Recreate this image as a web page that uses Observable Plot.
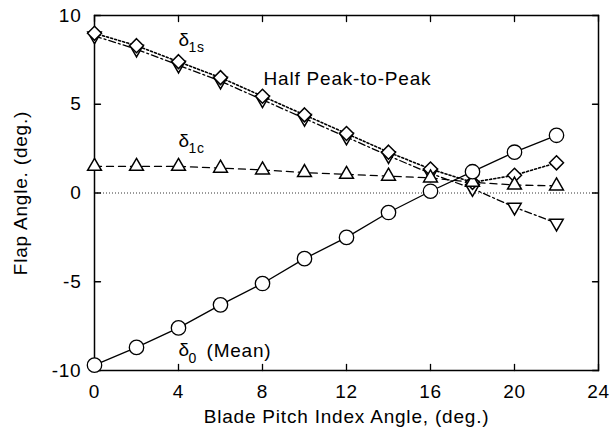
<!DOCTYPE html>
<html>
<head>
<meta charset="utf-8">
<script src="https://cdn.jsdelivr.net/npm/d3@7"></script>
<script src="https://cdn.jsdelivr.net/npm/@observablehq/plot@0.6"></script>
<style>
  html, body { margin: 0; padding: 0; background: #fff; }
</style>
</head>
<body>
<div id="chart"></div>
<script>
// Blade pitch index angle (deg.)
const pitch = [0, 2, 4, 6, 8, 10, 12, 14, 16, 18, 20, 22];
// δ0 (Mean)
const delta0 = [-9.7, -8.7, -7.6, -6.3, -5.1, -3.7, -2.5, -1.1, 0.1, 1.2, 2.3, 3.25];
// δ1c
const delta1c = [1.5, 1.5, 1.5, 1.4, 1.3, 1.15, 1.05, 0.95, 0.85, 0.6, 0.45, 0.4];
// Half Peak-to-Peak
const halfPP = [9.0, 8.3, 7.4, 6.5, 5.45, 4.4, 3.35, 2.3, 1.35, 0.6, 1.0, 1.7];
// δ1s
const delta1s = [8.85, 8.1, 7.2, 6.3, 5.25, 4.2, 3.15, 2.1, 1.1, 0.25, -0.8, -1.7];

const xTicks = [0, 4, 8, 12, 16, 20, 24];
const yTicks = [-10, -5, 0, 5, 10];

const rows = (ys) => pitch.map((x, i) => ({x, y: ys[i]}));
const s0 = rows(delta0), s1c = rows(delta1c), sHalf = rows(halfPP), s1s = rows(delta1s);

// inward tick shapes (drawn by Plot.vector at the frame edges)
const tickShape = (dx, dy) => ({draw(ctx, l) { ctx.moveTo(0, 0); ctx.lineTo(dx * l, dy * l); }});
const tickOpts = {length: 6, anchor: "start", stroke: "#000", strokeWidth: 1.3};

const lineW = 1.3;
const plot = Plot.plot({
  width: 613,
  height: 441,
  marginLeft: 94,
  marginRight: 15,
  marginTop: 15,
  marginBottom: 71,
  style: {fontFamily: "'Liberation Sans', Arial, sans-serif", fontSize: "19px", letterSpacing: "0.8px", color: "#000", background: "#fff"},
  x: {domain: [0, 24]},
  y: {domain: [-10, 10]},
  marks: [
    Plot.ruleY([0], {stroke: "#000", strokeWidth: 0.8, strokeDasharray: "1,2"}),
    Plot.axisX({ticks: xTicks, tickSize: 0, tickPadding: 14, tickFormat: (d) => String(d), label: "Blade Pitch Index Angle, (deg.)", labelAnchor: "center", labelArrow: "none", labelOffset: 52}),
    Plot.axisY({ticks: yTicks, tickSize: 0, tickPadding: 13, tickFormat: (d) => String(d), label: "Flap Angle. (deg.)", labelAnchor: "center", labelArrow: "none", labelOffset: 81}),
    Plot.vector(xTicks, {x: (d) => d, frameAnchor: "bottom", shape: tickShape(0, -1), ...tickOpts}),
    Plot.vector(xTicks, {x: (d) => d, frameAnchor: "top", shape: tickShape(0, 1), ...tickOpts}),
    Plot.vector(yTicks, {y: (d) => d, frameAnchor: "left", shape: tickShape(1, 0), ...tickOpts}),
    Plot.vector(yTicks, {y: (d) => d, frameAnchor: "right", shape: tickShape(-1, 0), ...tickOpts}),
    Plot.frame({stroke: "#000", strokeWidth: 1.5}),
    Plot.line(s1s, {x: "x", y: "y", stroke: "#000", strokeWidth: lineW, strokeDasharray: "7,3,2,3"}),
    Plot.line(sHalf, {x: "x", y: "y", stroke: "#000", strokeWidth: 1.6, strokeDasharray: "2,2.2"}),
    Plot.line(s1c, {x: "x", y: "y", stroke: "#000", strokeWidth: lineW, strokeDasharray: "7,5"}),
    Plot.line(s0, {x: "x", y: "y", stroke: "#000", strokeWidth: lineW}),
    Plot.dot(s1s, {x: "x", y: "y", symbol: "triangle2", r: 6.4, rotate: 180, fill: "#fff", stroke: "#000", strokeWidth: 1.5}),
    Plot.dot(sHalf, {x: "x", y: "y", symbol: "diamond2", r: 6.3, fill: "#fff", stroke: "#000", strokeWidth: 1.5}),
    Plot.dot(s1c, {x: "x", y: "y", symbol: "triangle2", r: 6.6, fill: "#fff", stroke: "#000", strokeWidth: 1.5}),
    Plot.dot(s0, {x: "x", y: "y", symbol: "circle", r: 7.2, fill: "#fff", stroke: "#000", strokeWidth: 1.3}),
    // annotations
    Plot.text([{x: 4.0, y: 8.62}], {x: "x", y: "y", text: () => "δ", textAnchor: "start", lineAnchor: "middle", fontSize: 19, fill: "#000"}),
    Plot.text([{x: 4.0, y: 8.62}], {x: "x", y: "y", text: () => "1s", textAnchor: "start", lineAnchor: "middle", dx: 10, dy: 8, fontSize: 14, fill: "#000"}),
    Plot.text([{x: 4.0, y: 2.93}], {x: "x", y: "y", text: () => "δ", textAnchor: "start", lineAnchor: "middle", fontSize: 19, fill: "#000"}),
    Plot.text([{x: 4.0, y: 2.93}], {x: "x", y: "y", text: () => "1c", textAnchor: "start", lineAnchor: "middle", dx: 10, dy: 8, fontSize: 14, fill: "#000"}),
    Plot.text([{x: 8.05, y: 6.45}], {x: "x", y: "y", text: () => "Half Peak-to-Peak", textAnchor: "start", lineAnchor: "middle", fontSize: 19, fill: "#000"}),
    Plot.text([{x: 4.0, y: -8.85}], {x: "x", y: "y", text: () => "δ", textAnchor: "start", lineAnchor: "middle", fontSize: 19, fill: "#000"}),
    Plot.text([{x: 4.0, y: -8.85}], {x: "x", y: "y", text: () => "0", textAnchor: "start", lineAnchor: "middle", dx: 10, dy: 8, fontSize: 14, fill: "#000"}),
    Plot.text([{x: 4.0, y: -8.85}], {x: "x", y: "y", text: () => "(Mean)", textAnchor: "start", lineAnchor: "middle", dx: 28, dy: 1, fontSize: 19, fill: "#000"})
  ]
});
document.getElementById("chart").appendChild(plot);
</script>
</body>
</html>
